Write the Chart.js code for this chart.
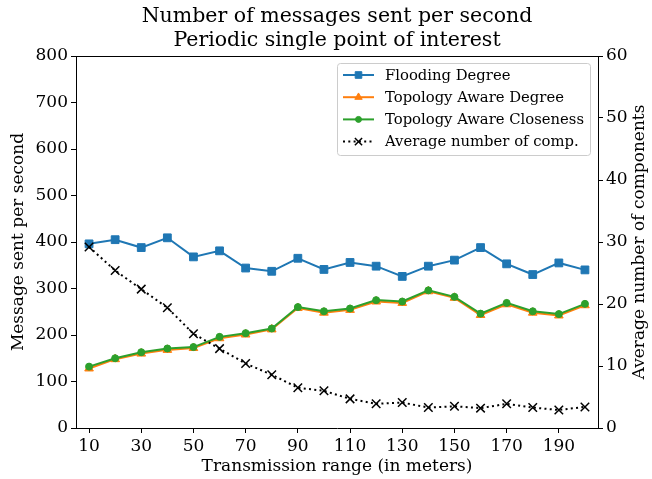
<!DOCTYPE html>
<html>
<head>
<meta charset="utf-8">
<script src="https://cdn.jsdelivr.net/npm/chart.js@4"></script>
<style>
  html, body { margin: 0; padding: 0; background: #fff; }
  #my-chart { display: block; }
</style>
</head>
<body>
<canvas id="my-chart" width="652" height="479"></canvas>
<script>
const titleLines = ["Number of messages sent per second", "Periodic single point of interest"];
const rangeValues = [10, 20, 30, 40, 50, 60, 70, 80, 90, 100, 110, 120, 130, 140, 150, 160, 170, 180, 190, 200];
const xTickValues = [10, 30, 50, 70, 90, 110, 130, 150, 170, 190];

const floodingDegree = [396, 405, 388, 409, 368, 381, 344, 337, 365, 341, 356, 348, 326, 348, 361, 388, 353, 330, 355, 340];
const topologyDegree = [128, 148, 160, 168, 172, 193, 201, 212, 258, 248, 254, 272, 269, 294, 280, 243, 266, 248, 242, 264];
const topologyCloseness = [132, 150, 163, 171, 174, 196, 204, 214, 260, 251, 257, 275, 272, 296, 282, 246, 269, 251, 245, 267];
const avgComponents = [29.2, 25.4, 22.4, 19.4, 15.2, 12.8, 10.4, 8.6, 6.5, 6.0, 4.7, 3.9, 4.1, 3.3, 3.5, 3.2, 3.9, 3.3, 2.9, 3.4];

const serif = "'DejaVu Serif', serif";

function toPoints(values) {
  return rangeValues.map((r, i) => ({ x: r, y: values[i] }));
}

// top spine (Chart.js only draws the axis borders)
const framePlugin = {
  id: "frame",
  afterDatasetsDraw(chart) {
    const { ctx, chartArea } = chart;
    ctx.save();
    ctx.strokeStyle = "#000";
    ctx.lineWidth = 1;
    ctx.beginPath();
    ctx.moveTo(chartArea.left, chartArea.top + 0.5);
    ctx.lineTo(chartArea.right, chartArea.top + 0.5);
    ctx.stroke();
    ctx.restore();
  }
};

// two-line title and the right axis label (reads bottom to top)
const textPlugin = {
  id: "texts",
  afterDraw(chart) {
    const { ctx, chartArea } = chart;
    const cx = (chartArea.left + chartArea.right) / 2;
    ctx.save();
    ctx.fillStyle = "#000";
    ctx.textAlign = "center";
    ctx.textBaseline = "alphabetic";
    ctx.font = "20.5px " + serif;
    ctx.fillText(titleLines[0], cx, 22);
    ctx.fillText(titleLines[1], cx, 46);

    ctx.translate(640, (chartArea.top + chartArea.bottom) / 2);
    ctx.rotate(-Math.PI / 2);
    ctx.font = "17px " + serif;
    ctx.textBaseline = "middle";
    ctx.fillText("Average number of components", 0, 0);
    ctx.restore();
  }
};

// matplotlib-like legend in the upper right corner
const legendPlugin = {
  id: "boxLegend",
  afterDraw(chart) {
    const { ctx } = chart;
    const box = { x: 337.5, y: 63.5, w: 253, h: 92 };
    ctx.save();
    ctx.fillStyle = "rgba(255,255,255,0.8)";
    ctx.strokeStyle = "#cccccc";
    ctx.lineWidth = 1;
    ctx.beginPath();
    ctx.roundRect(box.x, box.y, box.w, box.h, 3);
    ctx.fill();
    ctx.stroke();

    ctx.font = "14.8px " + serif;
    ctx.textBaseline = "middle";
    ctx.textAlign = "left";
    chart.data.datasets.forEach((ds, i) => {
      const y = 75 + i * 22.2;
      ctx.strokeStyle = ds.borderColor;
      ctx.lineWidth = ds.borderWidth;
      ctx.setLineDash(ds.borderDash || []);
      ctx.beginPath();
      ctx.moveTo(343, y);
      ctx.lineTo(374, y);
      ctx.stroke();
      ctx.setLineDash([]);
      ctx.fillStyle = ds.pointBackgroundColor;
      ctx.strokeStyle = ds.pointBorderColor;
      ctx.lineWidth = ds.pointBorderWidth;
      Chart.helpers.drawPoint(ctx, {
        pointStyle: ds.pointStyle,
        radius: ds.pointRadius * 0.85,
        borderWidth: ds.pointBorderWidth,
        rotation: 0
      }, 358.5, y);
      ctx.fillStyle = "#000";
      ctx.fillText(ds.label, 385, y + 1);
    });
    ctx.restore();
  }
};

function printTheChart() {
  const ctx = document.getElementById("my-chart").getContext("2d");
  const tickFont = { family: serif, size: 17 };
  const axisGrid = { drawOnChartArea: false, drawTicks: true, tickLength: 5, tickColor: "#000", tickWidth: 1 };
  const axisBorder = { color: "#000", width: 1 };

  new Chart(ctx, {
    type: "line",
    data: {
      datasets: [
        {
          label: "Flooding Degree",
          data: toPoints(floodingDegree),
          yAxisID: "y",
          borderColor: "#1f77b4",
          backgroundColor: "#1f77b4",
          pointBackgroundColor: "#1f77b4",
          pointBorderColor: "#1f77b4",
          borderWidth: 2,
          pointStyle: "rect",
          pointRadius: 5.5,
          pointBorderWidth: 1,
          order: 3
        },
        {
          label: "Topology Aware Degree",
          data: toPoints(topologyDegree),
          yAxisID: "y",
          borderColor: "#ff7f0e",
          backgroundColor: "#ff7f0e",
          pointBackgroundColor: "#ff7f0e",
          pointBorderColor: "#ff7f0e",
          borderWidth: 2,
          pointStyle: "triangle",
          pointRadius: 5,
          pointBorderWidth: 1,
          order: 2
        },
        {
          label: "Topology Aware Closeness",
          data: toPoints(topologyCloseness),
          yAxisID: "y",
          borderColor: "#2ca02c",
          backgroundColor: "#2ca02c",
          pointBackgroundColor: "#2ca02c",
          pointBorderColor: "#2ca02c",
          borderWidth: 2,
          pointStyle: "circle",
          pointRadius: 3.5,
          pointBorderWidth: 1,
          order: 1
        },
        {
          label: "Average number of comp.",
          data: toPoints(avgComponents),
          yAxisID: "y1",
          borderColor: "#000000",
          backgroundColor: "#000000",
          pointBackgroundColor: "#000000",
          pointBorderColor: "#000000",
          borderWidth: 2,
          borderDash: [2, 3.3],
          pointStyle: "crossRot",
          pointRadius: 6,
          pointBorderWidth: 1.5,
          order: 0
        }
      ]
    },
    options: {
      responsive: false,
      animation: false,
      devicePixelRatio: 1,
      layout: { padding: { top: 56, left: 0, right: 0, bottom: 0 } },
      plugins: {
        legend: { display: false },
        title: { display: false },
        tooltip: { enabled: false }
      },
      elements: { line: { tension: 0, fill: false } },
      scales: {
        x: {
          type: "linear",
          min: 5,
          max: 205,
          afterBuildTicks: (scale) => {
            scale.ticks = xTickValues.map((v) => ({ value: v }));
          },
          afterFit: (scale) => { scale.height = 51; },
          grid: axisGrid,
          border: axisBorder,
          ticks: { color: "#000", font: tickFont, padding: 3, maxRotation: 0, autoSkip: false },
          title: {
            display: true,
            text: "Transmission range (in meters)",
            color: "#000",
            font: { family: serif, size: 17 },
            padding: { top: 0, bottom: 2 }
          }
        },
        y: {
          position: "left",
          min: 0,
          max: 800,
          afterFit: (scale) => { scale.width = 76; },
          grid: axisGrid,
          border: axisBorder,
          ticks: { stepSize: 100, color: "#000", font: tickFont, padding: 3 },
          title: {
            display: true,
            text: "Message sent per second",
            color: "#000",
            font: { family: serif, size: 17 },
            padding: { top: 8, bottom: 0 }
          }
        },
        y1: {
          position: "right",
          min: 0,
          max: 60,
          afterFit: (scale) => { scale.width = 54; },
          grid: axisGrid,
          border: axisBorder,
          ticks: { stepSize: 10, color: "#000", font: tickFont, padding: 3 }
        }
      }
    },
    plugins: [framePlugin, legendPlugin, textPlugin]
  });
}

printTheChart();
</script>
</body>
</html>
